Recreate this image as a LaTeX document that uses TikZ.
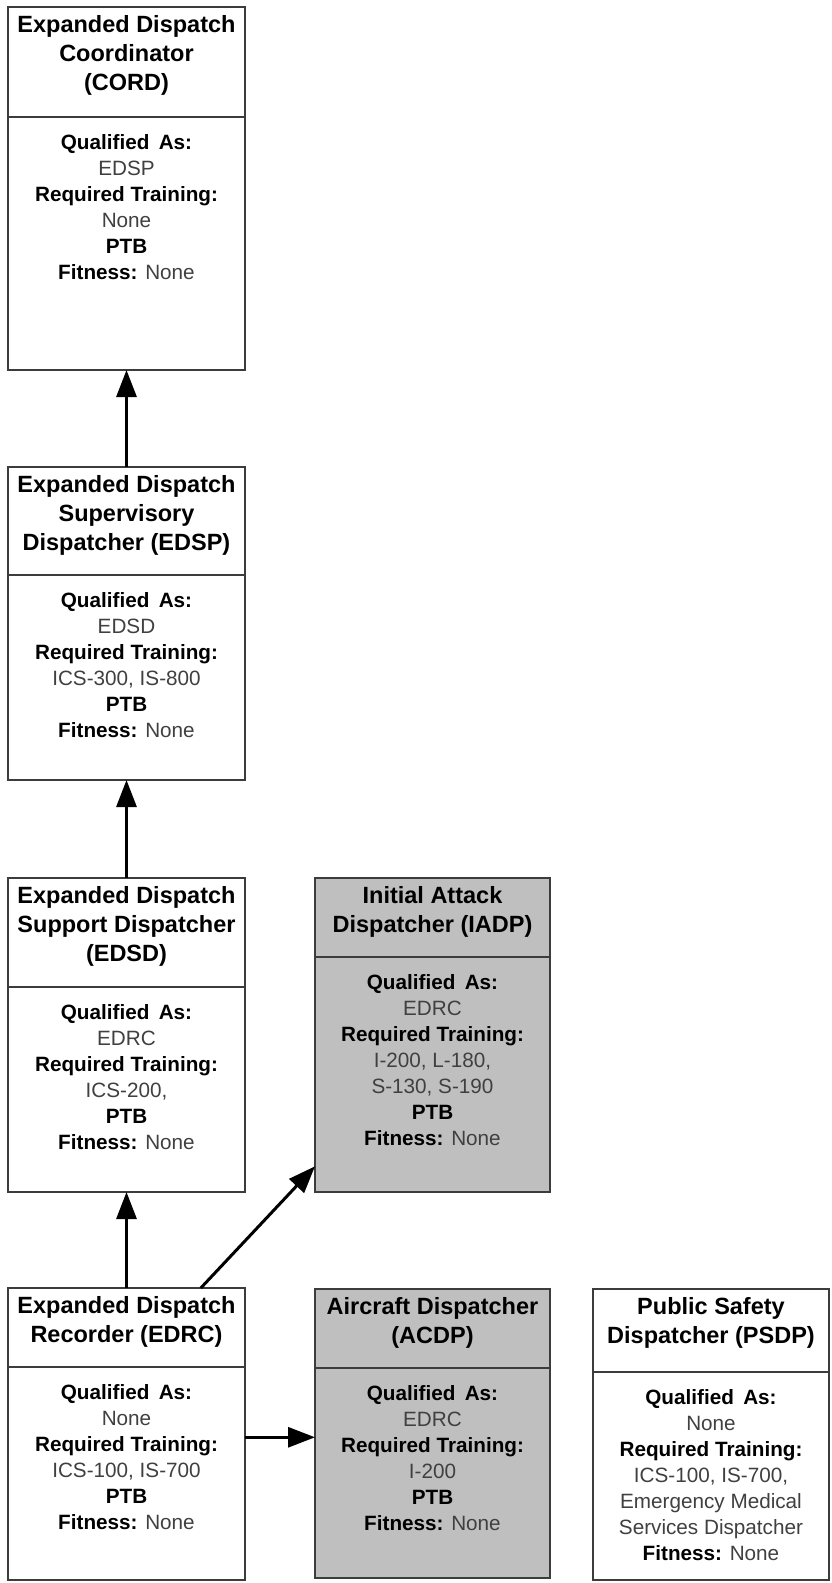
\documentclass[tikz,border=0pt]{standalone}
\usepackage{fontspec}
\setmainfont{Liberation Sans}
\usetikzlibrary{arrows.meta}

\definecolor{boxline}{RGB}{60,60,60}
\definecolor{shade}{RGB}{191,191,191}
\definecolor{valtext}{RGB}{64,64,64}

\tikzset{
  frame/.style={draw=boxline, line width=1.2pt, inner sep=0pt, outer sep=0pt, anchor=north west},
  titletext/.style={font=\fontsize{23.5}{29}\selectfont\bfseries, align=center, inner sep=0pt, anchor=north},
  bodytext/.style={font=\fontsize{20.7}{26}\selectfont, align=center, inner sep=0pt, anchor=north, text=valtext},
  link/.style={line width=3pt, -{Triangle[length=27pt,width=20pt]}}
}

% bold black field label inside the grey value text
\newcommand\lbl[1]{{\color{black}\bfseries #1}}
\newcommand\qualif{\lbl{Qualified\hspace{0.45em}As:}}

% #1 name, #2 left, #3 top, #4 width, #5 header height, #6 body height,
% #7 fill, #8 title, #9 body lines
\newcommand\rolebox[9]{%
  \node[frame, fill=#7, minimum width=#4pt, minimum height=#5pt] (#1H) at (#2,#3) {};
  \node[frame, fill=#7, minimum width=#4pt, minimum height=#6pt, anchor=north] (#1B) at (#1H.south) {};
  \node[titletext] (#1T) at ([yshift=-8pt]#1H.north) {#8};
  \node[bodytext] (#1V) at ([yshift=-17pt]#1B.north) {#9};
}

\begin{document}
\begin{tikzpicture}[x=1pt, y=-1pt]
\useasboundingbox (0,0) rectangle (831,1583);

\rolebox{cord}{8}{7}{237}{110}{253}{white}
  {Expanded Dispatch\\ Coordinator\\ (CORD)}
  {\qualif\\ EDSP\\ \lbl{Required Training:}\\ None\\ \lbl{PTB}\\ \lbl{Fitness:} None}

\rolebox{edsp}{8}{467}{237}{108}{205}{white}
  {Expanded Dispatch\\ Supervisory\\ Dispatcher (EDSP)}
  {\qualif\\ EDSD\\ \lbl{Required Training:}\\ ICS-300, IS-800\\ \lbl{PTB}\\ \lbl{Fitness:} None}

\rolebox{edsd}{8}{878}{237}{109}{205}{white}
  {Expanded Dispatch\\ Support Dispatcher\\ (EDSD)}
  {\qualif\\ EDRC\\ \lbl{Required Training:}\\ ICS-200,\\ \lbl{PTB}\\ \lbl{Fitness:} None}

\rolebox{iadp}{315}{878}{235}{79}{235}{shade}
  {Initial Attack\\ Dispatcher (IADP)}
  {\qualif\\ EDRC\\ \lbl{Required Training:}\\ I-200, L-180,\\ S-130, S-190\\ \lbl{PTB}\\ \lbl{Fitness:} None}

\rolebox{edrc}{8}{1288}{237}{79}{213}{white}
  {Expanded Dispatch\\ Recorder (EDRC)}
  {\qualif\\ None\\ \lbl{Required Training:}\\ ICS-100, IS-700\\ \lbl{PTB}\\ \lbl{Fitness:} None}

\rolebox{acdp}{315}{1289}{235}{79}{210}{shade}
  {Aircraft Dispatcher\\ (ACDP)}
  {\qualif\\ EDRC\\ \lbl{Required Training:}\\ I-200\\ \lbl{PTB}\\ \lbl{Fitness:} None}

\rolebox{psdp}{593}{1289}{236}{83}{208}{white}
  {Public Safety\\ Dispatcher (PSDP)}
  {\qualif\\ None\\ \lbl{Required Training:}\\ ICS-100, IS-700,\\ Emergency Medical\\ Services Dispatcher\\ \lbl{Fitness:} None}

% progression arrows
\draw[link] (edspH.north) -- (cordB.south);
\draw[link] (edsdH.north) -- (edspB.south);
\draw[link] (edrcH.north) -- (edsdB.south);
\draw[link] (edrcH.28.9) -- (iadpB.218.8);
\draw[link] (edrcB.17.56) -- (edrcB.17.56 -| acdpB.west);
\end{tikzpicture}
\end{document}
